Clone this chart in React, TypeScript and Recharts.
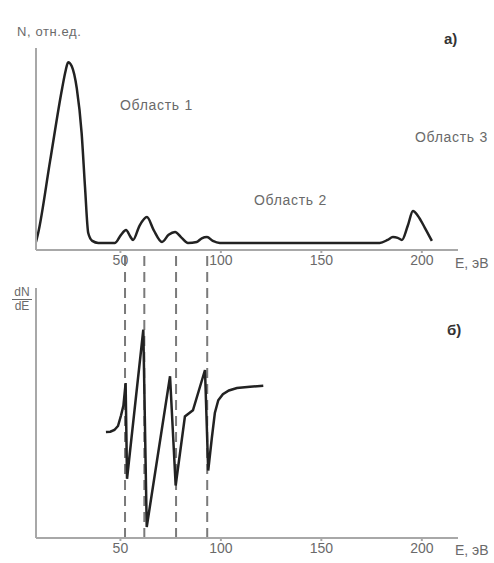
import { LineChart, Line, XAxis, YAxis, ReferenceLine } from 'recharts';

// spectrum N(E), relative units
const spectrumE = [8, 9, 15, 21, 22.8, 24, 25.8, 28.3, 30.7, 32.4, 34, 36, 39, 47.3, 50.3, 52.8, 55, 56.3, 59.5, 63.2, 66.5, 70.7, 74, 77.2, 80.5, 83.6, 88, 90.5, 93.1, 96, 99.5, 179, 183, 185.6, 188, 190.1, 193, 195.6, 198, 201.5, 205];
const spectrumN = [4, 8, 44, 80, 89, 93, 91, 80, 58, 31, 8.4, 4.5, 3.5, 3.5, 7.5, 9.9, 6.5, 5, 12, 16.3, 10, 4, 7.5, 8.9, 6, 3.5, 4, 5.8, 6.4, 4.5, 3.5, 3.5, 5, 6.4, 6, 5, 12, 19.3, 17, 11, 4.5];

// derivative dN/dE
const derivE = [42.8, 45, 47, 48.8, 50.3, 51.5, 52.6, 53.3, 61.4, 63.1, 74.7, 77.5, 82.1, 86.1, 92.1, 93.7, 95.5, 97, 98.7, 101, 104, 108, 114.5, 121.1];
const derivV = [42.4, 42.5, 43.2, 44.8, 49, 53, 62, 23.7, 83.3, 4.4, 64.7, 21, 48.6, 51.1, 67.2, 27, 40, 50, 55.1, 57.5, 59, 60, 60.5, 60.9];

const dashedE = [52.3, 61.9, 77.7, 93.2];
const ticksE = [50, 100, 150, 200];
const domainE: [number, number] = [8, 218];

const spectrum = spectrumE.map((e, i) => ({ e, v: spectrumN[i] }));
const deriv = derivE.map((e, i) => ({ e, v: derivV[i] }));

const axisColor = '#a8a8a8';
const textColor = '#6a6a6a';
const font = 'Arial, "Liberation Sans", sans-serif';

const txt = (left: number, top: number, s: string, size = 14, extra: object = {}) => (
    <div style={{ position: 'absolute', left, top, fontSize: size, color: textColor, whiteSpace: 'nowrap', lineHeight: 1, ...extra }}>{s}</div>
);

export default function App() {
    const tick = { fill: textColor, fontSize: 14, fontFamily: font };
    return (
        <div style={{ position: 'absolute', left: 0, top: 0, width: 494, height: 563, background: '#fff', fontFamily: font }}>
            <div style={{ position: 'absolute', left: 0, top: 0 }}>
                <LineChart width={494} height={275} data={spectrum} margin={{ top: 48, right: 36, left: 26, bottom: 0 }}>
                    <XAxis dataKey="e" type="number" domain={domainE} ticks={ticksE} height={25}
                        stroke={axisColor} strokeWidth={2} tickSize={3} tick={tick} allowDataOverflow />
                    <YAxis type="number" domain={[0, 100]} width={10} tick={false} tickLine={false}
                        stroke={axisColor} strokeWidth={2} />
                    <Line dataKey="v" type="monotone" stroke="#222" strokeWidth={2.5} dot={false} isAnimationActive={false} />
                </LineChart>
            </div>
            <div style={{ position: 'absolute', left: 0, top: 240 }}>
                <LineChart width={494} height={323} data={deriv} margin={{ top: 48, right: 36, left: 26, bottom: 0 }}>
                    <XAxis dataKey="e" type="number" domain={domainE} ticks={ticksE} height={25}
                        stroke={axisColor} strokeWidth={2} tickSize={3} tick={tick} allowDataOverflow />
                    <YAxis type="number" domain={[0, 100]} width={10} tick={false} tickLine={false}
                        stroke={axisColor} strokeWidth={2} />
                    {dashedE.map((e) => (
                        <ReferenceLine key={e} segment={[{ x: e, y: 0 }, { x: e, y: 115 }]} ifOverflow="visible"
                            stroke="#7a7a7a" strokeWidth={2} strokeDasharray="10 6" />
                    ))}
                    <Line dataKey="v" type="linear" stroke="#222" strokeWidth={2.5} dot={false} isAnimationActive={false} />
                </LineChart>
            </div>
            {txt(17, 25, 'N, отн.ед.', 13, { letterSpacing: 0.6 })}
            {txt(444, 31, 'а)', 15, { color: '#333', fontWeight: 'bold' })}
            {txt(120, 98, 'Область 1', 14, { letterSpacing: 0.7 })}
            {txt(254, 193, 'Область 2', 14, { letterSpacing: 0.7 })}
            {txt(415, 130, 'Область 3', 14, { letterSpacing: 0.7 })}
            {txt(455, 256, 'E, эВ', 14)}
            {txt(455, 543, 'E, эВ', 14)}
            {txt(447, 322, 'б)', 15, { color: '#333', fontWeight: 'bold' })}
            <div style={{ position: 'absolute', left: 12, top: 286, width: 20, fontSize: 12, color: textColor, lineHeight: '13px', textAlign: 'center' }}>
                <div style={{ borderBottom: `1px solid ${textColor}` }}>dN</div>
                <div>dE</div>
            </div>
        </div>
    );
}
